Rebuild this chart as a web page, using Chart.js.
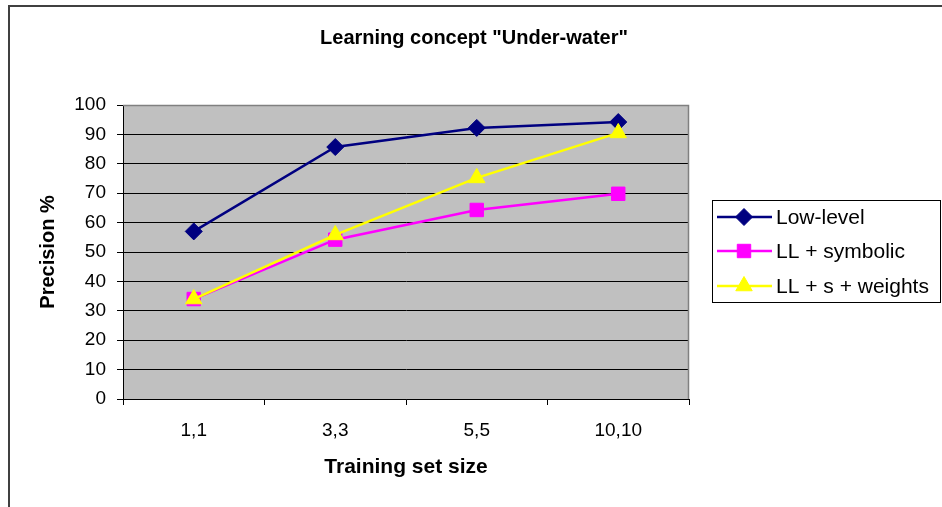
<!DOCTYPE html>
<html>
<head>
<meta charset="utf-8">
<script src="https://cdn.jsdelivr.net/npm/chart.js@4.4.0/dist/chart.umd.min.js"></script>
<style>
    html, body { margin: 0; padding: 0; background: #fff; }
    #wrap { width: 942px; height: 507px; }
</style>
</head>
<body>
<div id="wrap"><canvas id="chart" width="942" height="507"></canvas></div>
<script>
const categories = ['1,1', '3,3', '5,5', '10,10'];
const seriesNames = ['Low-level', 'LL + symbolic', 'LL + s + weights'];
const lowLevel = [57, 85.7, 92.2, 94.2];
const llSymbolic = [34, 54.2, 64.3, 69.8];
const llWeights = [34, 55.8, 75.2, 90.5];
const yTicks = [0, 10, 20, 30, 40, 50, 60, 70, 80, 90, 100];

const FONT = 'Liberation Sans, Arial, sans-serif';

// plot background, outer frame and the boxed legend
const excelLook = {
    id: 'excelLook',
    beforeDraw(chart) {
        const { ctx, chartArea: a } = chart;
        ctx.save();
        ctx.fillStyle = '#fff';
        ctx.fillRect(0, 0, chart.width, chart.height);
        ctx.fillStyle = '#c0c0c0';
        ctx.fillRect(a.left, a.top, a.right - a.left, a.bottom - a.top);
        ctx.restore();
    },
    afterDraw(chart) {
        const { ctx, chartArea: a } = chart;
        ctx.save();
        // plot area border (top / right)
        ctx.strokeStyle = '#808080';
        ctx.lineWidth = 1.5;
        ctx.beginPath();
        ctx.moveTo(a.left, a.top + 0.5);
        ctx.lineTo(a.right - 0.5, a.top + 0.5);
        ctx.lineTo(a.right - 0.5, a.bottom);
        ctx.stroke();

        // outer frame (only left and top visible)
        ctx.strokeStyle = '#404040';
        ctx.lineWidth = 2;
        ctx.beginPath();
        ctx.moveTo(9, chart.height);
        ctx.lineTo(9, 6);
        ctx.lineTo(chart.width, 6);
        ctx.stroke();

        // legend
        ctx.strokeStyle = '#000';
        ctx.lineWidth = 1;
        ctx.strokeRect(712.5, 200.5, 228, 102);
        const rows = [217, 251, 286];
        chart.data.datasets.forEach((ds, i) => {
            const y = rows[i];
            ctx.strokeStyle = ds.borderColor;
            ctx.lineWidth = ds.borderWidth;
            ctx.beginPath();
            ctx.moveTo(717, y);
            ctx.lineTo(772, y);
            ctx.stroke();
            ctx.fillStyle = ds.pointBackgroundColor;
            ctx.strokeStyle = ds.pointBorderColor;
            ctx.lineWidth = 1;
            Chart.helpers.drawPoint(ctx, {
                pointStyle: ds.pointStyle,
                radius: ds.pointRadius,
                rotation: 0,
                borderWidth: 1
            }, 744, y);
            ctx.fillStyle = '#000';
            ctx.font = '21px ' + FONT;
            ctx.textBaseline = 'middle';
            ctx.textAlign = 'left';
            ctx.fillText(ds.label, 776, y + 1);
        });
        ctx.restore();
    }
};

const makeSet = (label, data, color, style, radius, order) => ({
    label: label,
    data: data,
    borderColor: color,
    backgroundColor: color,
    pointBackgroundColor: color,
    pointBorderColor: color,
    borderWidth: 2.5,
    pointStyle: style,
    pointRadius: radius,
    pointHoverRadius: radius,
    pointBorderWidth: 1,
    tension: 0,
    order: order
});

new Chart(document.getElementById('chart'), {
    type: 'line',
    data: {
        labels: categories,
        datasets: [
            makeSet(seriesNames[0], lowLevel, '#000080', 'rectRot', 8.5, 3),
            makeSet(seriesNames[1], llSymbolic, '#ff00ff', 'rect', 9.5, 2),
            makeSet(seriesNames[2], llWeights, '#ffff00', 'triangle', 9.5, 1)
        ]
    },
    options: {
        responsive: false,
        animation: false,
        devicePixelRatio: 1,
        layout: { padding: { left: 6, right: 0, top: 0, bottom: 0 } },
        plugins: {
            legend: { display: false },
            tooltip: { enabled: false },
            title: {
                display: true,
                text: 'Learning concept "Under-water"',
                color: '#000',
                font: { family: FONT, size: 20, weight: 'bold' },
                padding: { top: 26, bottom: 55 }
            }
        },
        scales: {
            x: {
                type: 'category',
                offset: true,
                grid: {
                    display: true,
                    drawOnChartArea: false,
                    offset: true,
                    tickLength: 6,
                    color: '#000'
                },
                border: { display: true, color: '#000', width: 1 },
                ticks: {
                    color: '#000',
                    font: { family: FONT, size: 19 },
                    padding: 14,
                    maxRotation: 0
                },
                title: {
                    display: true,
                    text: 'Training set size',
                    color: '#000',
                    font: { family: FONT, size: 21, weight: 'bold' },
                    padding: { top: 0, bottom: 27.4 }
                },
                afterFit(s) { s.height = 108; }
            },
            y: {
                min: 0,
                max: 100,
                afterBuildTicks(s) { s.ticks = yTicks.map(v => ({ value: v })); },
                grid: { color: '#000', tickLength: 6, lineWidth: 1 },
                border: { display: true, color: '#000', width: 1 },
                ticks: {
                    color: '#000',
                    font: { family: FONT, size: 19 },
                    padding: 11
                },
                title: {
                    display: true,
                    text: 'Precision %',
                    color: '#000',
                    font: { family: FONT, size: 20, weight: 'bold' },
                    padding: { top: 30, bottom: 0 }
                },
                afterFit(s) { s.width = 117; }
            },
            spacer: {
                type: 'linear',
                position: 'right',
                display: true,
                grid: { display: false },
                border: { display: false },
                ticks: { display: false },
                afterFit(s) { s.width = 253; }
            }
        }
    },
    plugins: [excelLook]
});
</script>
</body>
</html>
